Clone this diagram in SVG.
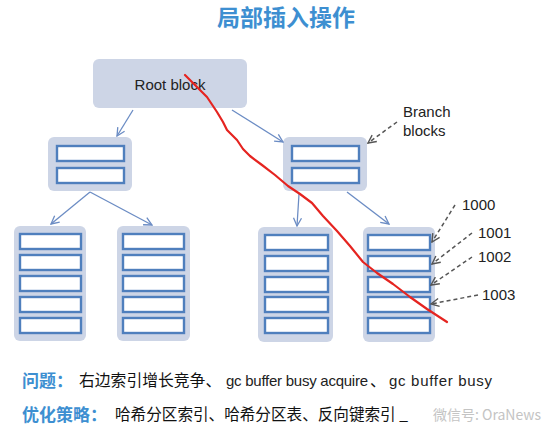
<svg xmlns="http://www.w3.org/2000/svg" width="555" height="431" viewBox="0 0 555 431">
<style>
.blk{fill:#cdd5e6;stroke:none}
.ent{fill:#fff;stroke:#4f7fbd;stroke-width:2.4}
.arr{fill:none;stroke:#6b8cc4;stroke-width:1.3}
.dash{fill:none;stroke:#555;stroke-width:1.5;stroke-dasharray:4 3}
.lbl{font-family:"Liberation Sans",Arial,sans-serif;font-size:15px;fill:#222}
.cjk{font-family:"Noto Sans CJK SC","Noto Sans",sans-serif}
.blue{fill:#3d8fd1;font-weight:bold}
</style>
<defs>
<marker id="ah" markerWidth="10" markerHeight="10" refX="9" refY="5" orient="auto" markerUnits="userSpaceOnUse">
<path d="M1,1 L9,5 L1,9" fill="none" stroke="#6b8cc4" stroke-width="1.3"/>
</marker>
<marker id="dh" markerWidth="10" markerHeight="10" refX="9" refY="5" orient="auto" markerUnits="userSpaceOnUse">
<path d="M1,1 L9,5 L1,9" fill="none" stroke="#555" stroke-width="1.4"/>
</marker>
</defs>
<rect width="555" height="431" fill="#fff"/>
<text x="286" y="26" text-anchor="middle" class="cjk blue" font-size="23">局部插入操作</text>

<g id="root">
<rect class="blk" x="93" y="59" width="154" height="49" rx="6"/>
<text x="170" y="90" text-anchor="middle" class="lbl" font-size="17">Root block</text>
</g>
<g id="branch-left">
<rect class="blk" x="48" y="137" width="84" height="54" rx="6"/>
<rect class="ent" x="57" y="146" width="67" height="15"/>
<rect class="ent" x="57" y="168" width="67" height="15"/>
</g>
<g id="branch-right">
<rect class="blk" x="283" y="137" width="84" height="54" rx="6"/>
<rect class="ent" x="292" y="146" width="67" height="15"/>
<rect class="ent" x="292" y="168" width="67" height="15"/>
</g>
<g id="leaf1">
<rect class="blk" x="14" y="226" width="72" height="115" rx="6"/>
<rect class="ent" x="20" y="234" width="61" height="15"/>
<rect class="ent" x="20" y="255" width="61" height="15"/>
<rect class="ent" x="20" y="276" width="61" height="15"/>
<rect class="ent" x="20" y="297" width="61" height="15"/>
<rect class="ent" x="20" y="318" width="61" height="15"/>
</g>
<g id="leaf2">
<rect class="blk" x="117" y="226" width="73" height="115" rx="6"/>
<rect class="ent" x="123" y="234" width="61" height="15"/>
<rect class="ent" x="123" y="255" width="61" height="15"/>
<rect class="ent" x="123" y="276" width="61" height="15"/>
<rect class="ent" x="123" y="297" width="61" height="15"/>
<rect class="ent" x="123" y="318" width="61" height="15"/>
</g>
<g id="leaf3">
<rect class="blk" x="258" y="227" width="75" height="115" rx="6"/>
<rect class="ent" x="265" y="235" width="63" height="15"/>
<rect class="ent" x="265" y="256" width="63" height="15"/>
<rect class="ent" x="265" y="277" width="63" height="15"/>
<rect class="ent" x="265" y="297" width="63" height="15"/>
<rect class="ent" x="265" y="318" width="63" height="15"/>
</g>
<g id="leaf4">
<rect class="blk" x="363" y="227" width="72" height="115" rx="6"/>
<rect class="ent" x="368" y="235" width="62" height="15"/>
<rect class="ent" x="368" y="256" width="62" height="15"/>
<rect class="ent" x="368" y="277" width="62" height="15"/>
<rect class="ent" x="368" y="297" width="62" height="15"/>
<rect class="ent" x="368" y="318" width="62" height="15"/>
</g>

<g id="connectors">
<line class="arr" x1="133" y1="110" x2="117" y2="136" marker-end="url(#ah)"/>
<line class="arr" x1="232" y1="110" x2="283" y2="142" marker-end="url(#ah)"/>
<line class="arr" x1="90" y1="192" x2="51" y2="224" marker-end="url(#ah)"/>
<line class="arr" x1="90" y1="192" x2="152" y2="225" marker-end="url(#ah)"/>
<line class="arr" x1="299" y1="194" x2="297" y2="226" marker-end="url(#ah)"/>
<line class="arr" x1="347" y1="192" x2="389" y2="224" marker-end="url(#ah)"/>
<line class="dash" x1="397" y1="122" x2="368" y2="143" marker-end="url(#dh)"/>
<line class="dash" x1="455" y1="205" x2="432" y2="242" marker-end="url(#dh)"/>
<line class="dash" x1="472" y1="233" x2="432" y2="264" marker-end="url(#dh)"/>
<line class="dash" x1="472" y1="257" x2="431" y2="285" marker-end="url(#dh)"/>
<line class="dash" x1="478" y1="295" x2="431" y2="304" marker-end="url(#dh)"/>
</g>

<g id="labels">
<text x="403" y="117" class="lbl">Branch</text>
<text x="403" y="136" class="lbl">blocks</text>
<text x="462" y="210" class="lbl">1000</text>
<text x="478" y="238" class="lbl">1001</text>
<text x="478" y="262" class="lbl">1002</text>
<text x="482" y="300" class="lbl">1003</text>
</g>

<path d="M185,75 L195,85 L207,97 L217,112 L223,122 L227,130 L237,140 L243,149 L250,156 L262,165 L275,175 L288,186 L300,194 L312,203 L323,216 L337,231 L350,246 L363,262 L377,273 L393,284 L410,297 L427,309 L447,322" fill="none" stroke="#e52420" stroke-width="2.2" stroke-linejoin="round" stroke-linecap="round"/>

<g id="notes">
<text x="22" y="387" class="cjk blue" font-size="17">问题：</text>
<text x="79" y="386" class="cjk" font-size="15.8" fill="#111">右边索引增长竞争、</text>
<text x="226" y="386" class="lbl" font-size="15.5" textLength="142">gc buffer busy acquire</text>
<text x="370" y="386" class="cjk" font-size="15.8" fill="#111">、</text>
<text x="389" y="386" class="lbl" font-size="16" textLength="103">gc buffer busy</text>
<text x="22" y="421" class="cjk blue" font-size="17">优化策略：</text>
<text x="115" y="420" class="cjk" font-size="15.6" fill="#111">哈希分区索引、哈希分区表、反向键索引 _</text>
<text x="433" y="420" class="cjk" font-size="14" fill="#c4c4c4">微信号: OraNews</text>
</g>
</svg>
